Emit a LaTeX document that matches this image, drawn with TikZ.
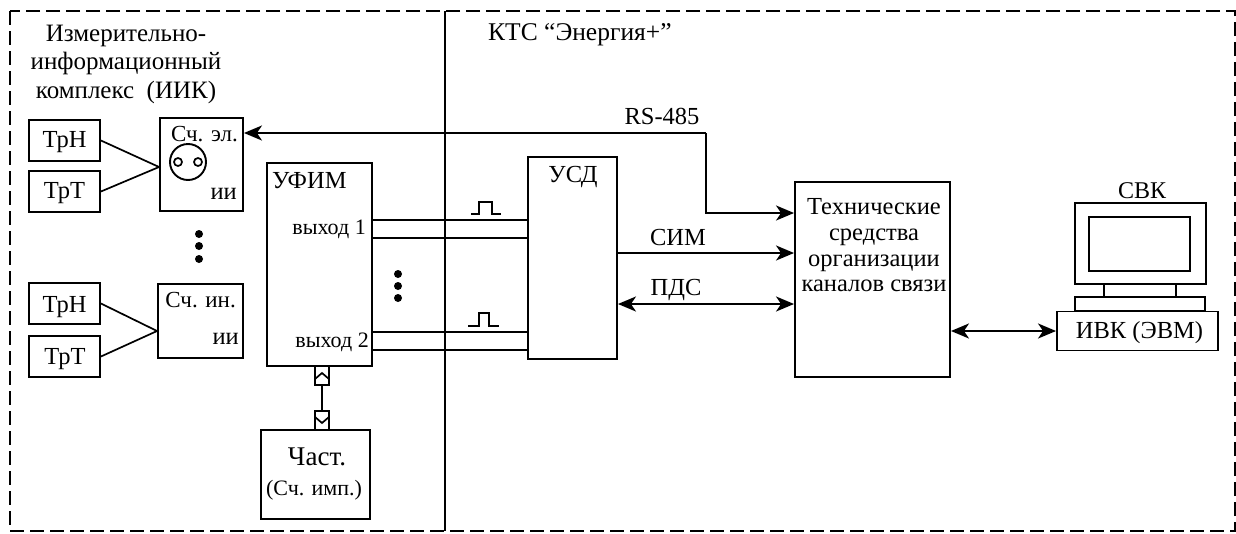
\documentclass[tikz,border=0pt]{standalone}
\usepackage{fontspec}
\setmainfont{Liberation Serif}
\usetikzlibrary{arrows.meta}

\begin{document}
\begin{tikzpicture}[x=1pt, y=-1pt]

    % Styles
    \tikzset{
        boxstyle/.style={rectangle, draw, line width=1.9pt, inner sep=0pt, align=center},
        tagtext/.style={inner sep=0pt, align=center, font=\fontsize{24.5}{28.5}\selectfont},
        smalltext/.style={inner sep=0pt, font=\fontsize{22}{24}\selectfont},
        dotstyle/.style={circle, fill, inner sep=0pt, minimum size=8pt},
        arrow/.style={-{Stealth[length=18pt, width=15pt, inset=5pt]}, line width=2pt},
        twoarrow/.style={{Stealth[length=18pt, width=15pt, inset=5pt]}-{Stealth[length=18pt, width=15pt, inset=5pt]}, line width=2pt},
        wire/.style={line width=1.7pt}
    }

    \useasboundingbox (0,0) rectangle (1236,533);

    % Frame
    \draw[line width=1.9pt, dash pattern=on 14pt off 6pt] (10,11) rectangle (1235,531);
    \coordinate (top) at (445,11);
    \coordinate (bottom) at (445,531);
    \draw[line width=1.9pt] (top) -- (bottom);

    % Headings
    \node[tagtext, font=\fontsize{25}{28.5}\selectfont] (iik) at (126,64) {Измерительно-\\информационный\\комплекс\ \ (ИИК)};
    \node[tagtext, font=\fontsize{25.5}{28}\selectfont, anchor=west] (kts) at (488,35) {КТС “Энергия+”};

    % Left column
    \node[boxstyle, minimum width=71pt, minimum height=41pt] (trn1) at (64.5,140.5) {};
    \node[boxstyle, minimum width=71pt, minimum height=41pt] (trt1) at (64.5,191.5) {};
    \node[boxstyle, minimum width=83pt, minimum height=93pt] (chel) at (201.5,164.5) {};
    \node[boxstyle, minimum width=71pt, minimum height=41pt] (trn2) at (64.5,303.5) {};
    \node[boxstyle, minimum width=71pt, minimum height=41pt] (trt2) at (64.5,356.5) {};
    \node[boxstyle, minimum width=85pt, minimum height=74pt] (chin) at (200.5,321) {};
    \node[tagtext] at (64.5,142.5) (ltrn1) {ТрН};
    \node[tagtext] at (64.5,193) (ltrt1) {ТрТ};
    \node[tagtext] at (64.5,307) (ltrn2) {ТрН};
    \node[tagtext] at (65,359) (ltrt2) {ТрТ};
    \node[smalltext, font=\fontsize{23}{24}\selectfont, anchor=east] (lchel) at (238,134) {Сч. эл.};
    \node[smalltext, font=\fontsize{23}{24}\selectfont, anchor=east] (lchin) at (236,300) {Сч. ин.};
    \node[tagtext, anchor=east] (iiel) at (237,194) {ии};
    \node[tagtext, anchor=east] (iiin) at (239,339) {ии};

    % Meter face
    \draw[line width=1.9pt] (188,162) circle (18);
    \draw[line width=1.7pt] (178,162) circle (4) (198,162) circle (4);

    \coordinate (joinel) at (chel.west |- 0,167);
    \coordinate (joinin) at (chin.west |- 0,331);
    \draw[wire] (trn1.east) -- (joinel);
    \draw[wire] (trt1.east) -- (joinel);
    \draw[wire] (trn2.east) -- (joinin);
    \draw[wire] (trt2.east) -- (joinin);

    % Dots
    \foreach \y in {234,246,259} {
        \node[dotstyle] at (199,\y) {};
    }
    \foreach \y in {274,286,298} {
        \node[dotstyle] at (398,\y) {};
    }

    % Middle
    \node[boxstyle, minimum width=105pt, minimum height=203pt] (ufim) at (319.5,264.5) {};
    \node[tagtext, anchor=west] (lufim) at (272,181) {УФИМ};
    \node[smalltext, anchor=east] (lout1) at (366,229) {выход 1};
    \node[smalltext, anchor=east] (lout2) at (369,342) {выход 2};
    \node[boxstyle, minimum width=89pt, minimum height=202pt] (usd) at (572.5,258) {};
    \node[tagtext] (lusd) at (573,177) {УСД};

    \foreach \y in {220,238,332,350} {
        \coordinate (out) at (ufim.east |- 0,\y);
        \draw[wire] (out) -- (out -| usd.west);
    }

    % Pulses
    \draw[line width=1.6pt] (471,214) -- (479,214) -- (479,202) -- (492,202) -- (492,214) -- (501,214);
    \draw[line width=1.6pt] (468,326) -- (479,326) -- (479,313) -- (489,313) -- (489,326) -- (499,326);

    % Pulse counter
    \node[boxstyle, minimum width=109pt, minimum height=89pt] (chast) at (315.5,474.5) {};
    \node[tagtext, font=\fontsize{27}{28}\selectfont] (lchast) at (317,457) {Част.};
    \node[smalltext] (lchimp) at (314,490) {(Сч. имп.)};
    \node[boxstyle, minimum width=14pt, minimum height=19pt] (portu) at (322,375.5) {};
    \node[boxstyle, minimum width=14pt, minimum height=19pt] (portd) at (322,420.5) {};
    \draw[wire] (portu) -- (portd);
    \draw[wire] (315,379) -- (322,373) -- (329,379);
    \draw[wire] (315,417) -- (322,423) -- (329,417);

    % Right side
    \node[boxstyle, minimum width=155pt, minimum height=195pt] (tech) at (872.5,279.5) {};
    \node[tagtext, font=\fontsize{24.5}{25.7}\selectfont] (ltech) at (874,245.5) {Технические\\средства\\организации\\каналов связи};
    \node[boxstyle, minimum width=161pt, minimum height=39pt] (ivk) at (1137.5,331) {};
    \node[tagtext] (livk) at (1139.5,333) {ИВК (ЭВМ)};
    \node[boxstyle, minimum width=130pt, minimum height=14pt] (base) at (1140,304) {};
    \node[boxstyle, minimum width=131pt, minimum height=81pt] (monitor) at (1140.5,243.5) {};
    \node[boxstyle, minimum width=101pt, minimum height=54pt] (screen) at (1139.5,244) {};
    \node[tagtext, font=\fontsize{24}{28}\selectfont] (svk) at (1142,191) {СВК};
    \draw[line width=1.5pt] (1104,284) -- (1104,297);
    \draw[line width=1.5pt] (1176,284) -- (1176,297);

    % Arrows
    \coordinate (rsin) at (chel.east |- 0,133);
    \coordinate (rsbend) at (706,133);
    \coordinate (rsout) at (706,213);
    \draw[arrow] (rsbend) -- (rsin);
    \draw[arrow] (rsbend) -- (rsout) -- (rsout -| tech.west);
    \coordinate (sim) at (usd.east |- 0,253);
    \coordinate (pds) at (usd.east |- 0,304);
    \draw[arrow] (sim) -- (sim -| tech.west);
    \draw[twoarrow] (pds) -- (pds -| tech.west);
    \draw[twoarrow] (tech.east |- ivk.west) -- (ivk.west);

    % Line labels
    \node[tagtext] (lrs) at (662,116) {RS-485};
    \node[tagtext] (lsim) at (678,238) {СИМ};
    \node[tagtext] (lpds) at (676,290) {ПДС};

\end{tikzpicture}
\end{document}
